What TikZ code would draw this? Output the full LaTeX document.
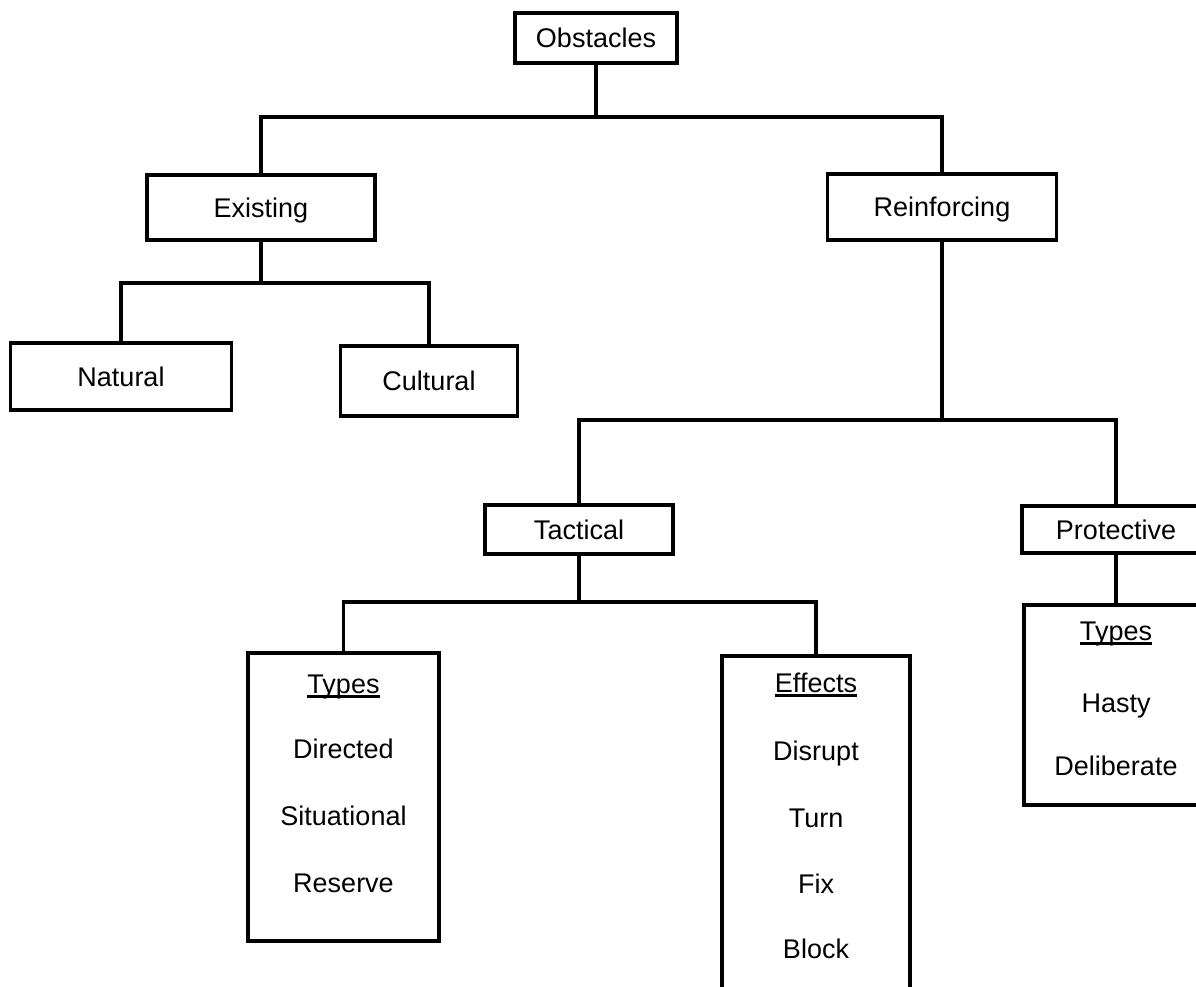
\documentclass[tikz,border=0pt]{standalone}
\usepackage{fontspec}
\setmainfont{Liberation Sans}
\newcommand\myul[1]{\setbox0\hbox{#1}\rlap{\rule[-4.5pt]{\wd0}{2.2pt}}\box0}
\begin{document}
\begin{tikzpicture}[x=1pt,y=-1pt,
  box/.style={draw, line width=3.2pt, inner sep=0pt, font=\fontsize{27}{32}\selectfont, text height=19.5pt, text depth=0pt},
  lbl/.style={anchor=base, inner sep=0pt, font=\fontsize{27}{32}\selectfont},
  conn/.style={line width=3.2pt}]
\useasboundingbox (0,0) rectangle (1196,986);
\clip (0,0) rectangle (1196,986);
% boxes
\node[box, minimum width=162pt, minimum height=50pt] (obst) at (596,38) {Obstacles};
\node[box, minimum width=228pt, minimum height=65pt] (exist) at (261,207.5) {Existing};
\node[box, minimum width=229pt, minimum height=66pt] (reinf) at (942,207) {Reinforcing};
\node[box, minimum width=221pt, minimum height=67pt] (nat) at (121,376.5) {Natural};
\node[box, minimum width=177pt, minimum height=70pt] (cult) at (429,381) {Cultural};
\node[box, minimum width=188pt, minimum height=49pt] (tact) at (579,529.5) {Tactical};
\node[box, minimum width=188pt, minimum height=47pt] (prot) at (1116,529.5) {Protective};
\node[box, minimum width=191pt, minimum height=288pt] (types1) at (343.5,797) {};
\node[box, minimum width=188pt, minimum height=354pt] (effects) at (816,833) {};
\node[box, minimum width=184pt, minimum height=200pt] (types2) at (1116,705) {};
% connectors
\coordinate (h1) at (0,117);
\coordinate (h2) at (0,283);
\coordinate (h3) at (0,420);
\coordinate (h4) at (0,602);
\draw[conn] (obst.south) -- (obst.south |- h1);
\draw[conn] (exist.north) -- (exist.north |- h1) -- (reinf.north |- h1) -- (reinf.north);
\draw[conn] (exist.south) -- (exist.south |- h2);
\draw[conn] (nat.north) -- (nat.north |- h2) -- (cult.north |- h2) -- (cult.north);
\draw[conn] (reinf.south) -- (reinf.south |- h3);
\draw[conn] (tact.north) -- (tact.north |- h3) -- (prot.north |- h3) -- (prot.north);
\draw[conn] (tact.south) -- (tact.south |- h4);
\draw[conn] (types1.north) -- (types1.north |- h4) -- (effects.north |- h4) -- (effects.north);
\draw[conn] (prot.south) -- (types2.north);
% list texts
\node[lbl] (t1a) at (343.5,693) {\myul{Types}};
\node[lbl] (t1b) at (343.5,758) {Directed};
\node[lbl] (t1c) at (343.5,825) {Situational};
\node[lbl] (t1d) at (343.5,892) {Reserve};
\node[lbl] (e1a) at (816,692) {\myul{Effects}};
\node[lbl] (e1b) at (816,760) {Disrupt};
\node[lbl] (e1c) at (816,827) {Turn};
\node[lbl] (e1d) at (816,893) {Fix};
\node[lbl] (e1e) at (816,958) {Block};
\node[lbl] (t2a) at (1116,640) {\myul{Types}};
\node[lbl] (t2b) at (1116,712) {Hasty};
\node[lbl] (t2c) at (1116,775) {Deliberate};
\end{tikzpicture}
\end{document}
